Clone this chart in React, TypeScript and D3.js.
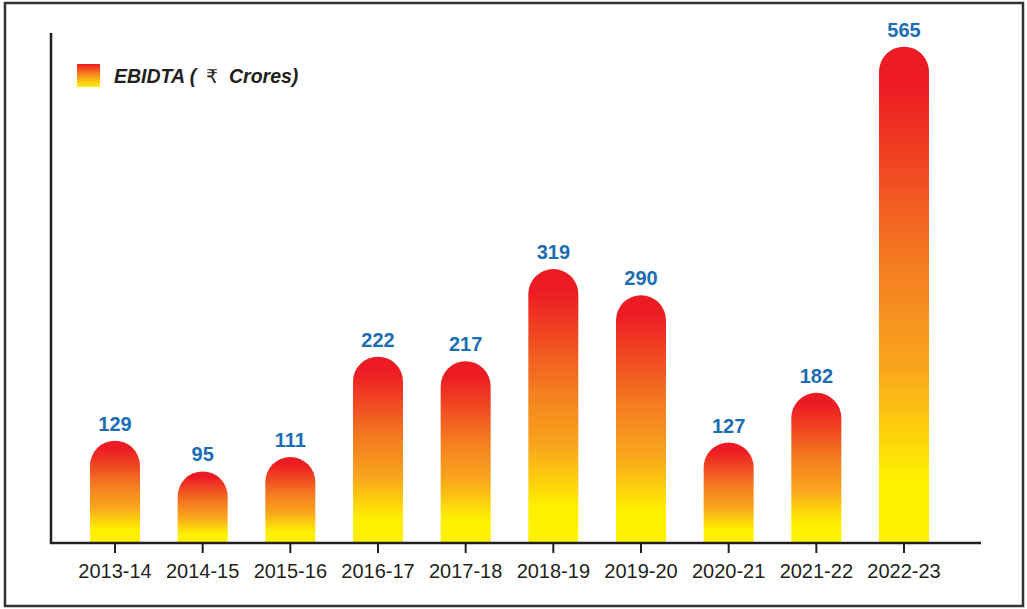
import React from "react";
import * as d3 from "d3";

const categories = ["2013-14", "2014-15", "2015-16", "2016-17", "2017-18", "2018-19", "2019-20", "2020-21", "2021-22", "2022-23"];
const ebidta = [129, 95, 111, 222, 217, 319, 290, 127, 182, 565];
const legendParts = ["EBIDTA (", "\u20B9", "Crores)"];

const W = 1027;
const H = 609;
const axisX = 51;
const axisY = 543;
const axisRight = 981;
const barW = 50;
const font = "Liberation Sans, Arial, Helvetica, sans-serif";

export default function App() {
  const x = d3.scalePoint<string>().domain(categories).range([115, 904]);
  const y = d3.scaleLinear().domain([0, 565]).range([557.3, 46.7]);
  const r = barW / 2;

  const barPath = (cx: number, v: number) => {
    const top = y(v);
    const p = d3.path();
    p.moveTo(cx - r, axisY);
    p.lineTo(cx - r, top + r);
    p.arc(cx, top + r, r, Math.PI, 0);
    p.lineTo(cx + r, axisY);
    p.closePath();
    return p.toString();
  };

  return (
    <svg width={W} height={H} style={{ position: "absolute", left: 0, top: 0 }} xmlns="http://www.w3.org/2000/svg">
      <defs>
        <linearGradient id="barGrad" x1="0" y1="0" x2="0" y2="1">
          <stop offset="0" stopColor="#ed1c24" />
          <stop offset="0.08" stopColor="#ed1c24" />
          <stop offset="0.45" stopColor="#f47f20" />
          <stop offset="0.65" stopColor="#f9a61c" />
          <stop offset="0.87" stopColor="#fff000" />
          <stop offset="1" stopColor="#fff200" />
        </linearGradient>
        <linearGradient id="legGrad" x1="0" y1="0" x2="0" y2="1">
          <stop offset="0" stopColor="#ed1c24" />
          <stop offset="0.5" stopColor="#f7941d" />
          <stop offset="1" stopColor="#fff200" />
        </linearGradient>
      </defs>
      <rect x={0} y={0} width={W} height={H} fill="#fff" />
      <rect x={5} y={3} width={1018} height={603} fill="none" stroke="#333" strokeWidth={2.5} />

      {categories.map((c, i) => (
        <path key={c} d={barPath(x(c)!, ebidta[i])} fill="url(#barGrad)" />
      ))}

      <line x1={axisX} y1={33} x2={axisX} y2={axisY + 1} stroke="#231f20" strokeWidth={2.5} />
      <line x1={axisX - 1} y1={axisY} x2={axisRight} y2={axisY} stroke="#231f20" strokeWidth={2.5} />

      {categories.map((c) => (
        <g key={"t" + c}>
          <line x1={x(c)!} y1={axisY} x2={x(c)!} y2={553} stroke="#231f20" strokeWidth={2} />
          <text x={x(c)!} y={578} textAnchor="middle" fontFamily={font} fontSize={20} fill="#231f20">
            {c}
          </text>
        </g>
      ))}

      {categories.map((c, i) => (
        <text key={"v" + c} x={x(c)!} y={y(ebidta[i]) - 10} textAnchor="middle" fontFamily={font} fontWeight="bold" fontSize={20} fill="#1b6db4">
          {ebidta[i]}
        </text>
      ))}

      <rect x={77} y={64} width={23} height={23} fill="url(#legGrad)" />
      <text y={83} fontFamily={font} fontSize={19.5} fill="#231f20">
        <tspan x={114} fontWeight="bold" fontStyle="italic">{legendParts[0]}</tspan>
        <tspan x={206} fontFamily="DejaVu Sans, sans-serif" fontSize={19}>{legendParts[1]}</tspan>
        <tspan x={229} fontWeight="bold" fontStyle="italic">{legendParts[2]}</tspan>
      </text>
    </svg>
  );
}
